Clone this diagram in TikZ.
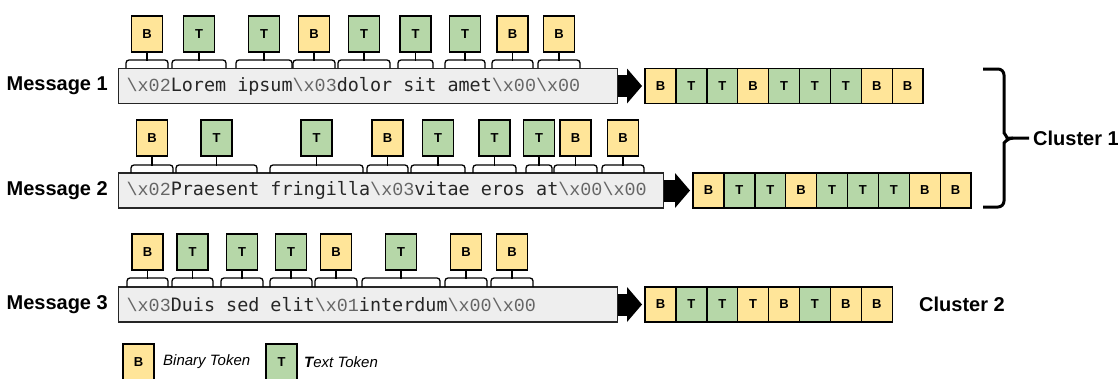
\documentclass[tikz,border=0pt]{standalone}
\usepackage{fontspec}
\setmainfont{Liberation Sans}
\newfontfamily\codefont{DejaVu Sans Mono}
\newfontfamily\escfont{Liberation Mono}
\usetikzlibrary{arrows.meta, positioning}

\definecolor{fillB}{HTML}{FFE599}
\definecolor{fillT}{HTML}{B6D7A8}
\definecolor{msggray}{HTML}{EEEEEE}
\newcommand{\esc}[1]{{\escfont\color{black!60}\textbackslash x#1}}
\newcommand{\spc}{\hspace*{11.07pt}}

\tikzset{
  tok/.style={draw=black, line width=1.4pt, fill=fill#1, minimum width=31pt, minimum height=36pt,
    inner sep=0pt, font=\fontsize{13}{15}\selectfont\bfseries},
  cell/.style={draw=black, line width=1.4pt, fill=fill#1, minimum width=30.9pt, minimum height=35pt,
    inner sep=0pt, outer sep=0pt, font=\fontsize{13}{15}\selectfont\bfseries},
  msgbox/.style={draw=black!85, fill=msggray, line width=1.3pt, anchor=west, inner xsep=8pt,
    inner ysep=0pt, minimum height=35pt, align=left, text=black!85, font=\fontsize{18.4}{20}\codefont},
  lbl/.style={inner sep=0pt, font=\fontsize{20}{24}\selectfont\bfseries},
  bracket/.style={line width=1.3pt, rounded corners=3pt},
  bigarrow/.style={line width=22pt, -{Triangle[length=15pt, width=35pt, line width=0pt]}, shorten >=3pt},
}

\begin{document}
\begin{tikzpicture}[x=1pt, y=-1pt]
    \useasboundingbox (0,0) rectangle (1118,378);
    % messages
    \node[lbl, anchor=east] (l1) at (108,86) {Message 1};
    \node[msgbox, text width=483pt] (m1) at (118,86) {\esc{02}Lorem\spc ipsum\esc{03}dolor\spc sit\spc amet\esc{00}\esc{00}};
    \node[lbl, anchor=east] (l2) at (108,190.5) {Message 2};
    \node[msgbox, text width=529pt] (m2) at (118,190.5) {\esc{02}Praesent\spc fringilla\esc{03}vitae\spc eros\spc at\esc{00}\esc{00}};
    \node[lbl, anchor=east] (l3) at (108,304.5) {Message 3};
    \node[msgbox, text width=483pt] (m3) at (118,304.5) {\esc{03}Duis\spc sed\spc elit\esc{01}interdum\esc{00}\esc{00}};

    % tokens above the messages
    \foreach \l/\r/\k [count=\i] in {126/168/B, 172/226/T, 236/292/T, 293/335/B, 338/390/T,
                                     398/433/T, 445/485/T, 492/533/B, 538/580/B}{
      \node[tok=\k] (a\i) at ({(\l+\r)/2},34) {\k};
      \draw[bracket] (\l,68) |- ({(\l+\r)/2},60) -| (\r,68);
      \draw[line width=1.3pt] (a\i.south) -- ++(0,8);
    }
    \foreach \l/\r/\k [count=\i] in {131/173/B, 176/257/T, 270/363/T, 367/408/B, 411/465/T,
                                     473/516/T, 526/552/T, 554/597/B, 602/644/B}{
      \node[tok=\k] (b\i) at ({(\l+\r)/2},138) {\k};
      \draw[bracket] (\l,173) |- ({(\l+\r)/2},165) -| (\r,173);
      \draw[line width=1.3pt] (b\i.south) -- ++(0,9);
    }
    \foreach \l/\r/\k [count=\i] in {127/168/B, 172/213/T, 221/263/T, 270/312/T, 315/357/B,
                                     362/440/T, 445/487/B, 491/533/B}{
      \node[tok=\k] (c\i) at ({(\l+\r)/2},252) {\k};
      \draw[bracket] (\l,287) |- ({(\l+\r)/2},278) -| (\r,287);
      \draw[line width=1.3pt] (c\i.south) -- ++(0,8);
    }

    % token strips
    \foreach \f/\k [count=\i] in {B/B, T/T, T/T, B/B, T/T, T/T, T/T, B/B, B/B}
      \node[cell=\f] (s1-\i) at ({645+30.9*(\i-0.5)},86) {\k};
    \foreach \f/\k [count=\i] in {B/B, T/T, T/T, B/B, T/T, T/T, T/T, B/B, B/B}
      \node[cell=\f] (s2-\i) at ({693+30.9*(\i-0.5)},190.5) {\k};
    \foreach \f/\k [count=\i] in {B/B, T/T, T/T, B/T, B/B, T/T, B/B, B/B}
      \node[cell=\f] (s3-\i) at ({645+30.9*(\i-0.5)},304.5) {\k};

    \draw[bigarrow] (m1.east) -- (s1-1.west);
    \draw[bigarrow] (m2.east) -- (s2-1.west);
    \draw[bigarrow] (m3.east) -- (s3-1.west);

    % clusters
    \draw[line width=3pt, rounded corners=6pt] (983,69) -| (1004,127) to[out=-90,in=180] (1013,138) -- (1029,138);
    \draw[line width=3pt, rounded corners=6pt] (983,207) -| (1004,149) to[out=90,in=180] (1013,138);
    \node[lbl, anchor=west] (k1) at (1033,138) {Cluster 1};
    \node[lbl, anchor=west] (k2) at (919,304) {Cluster 2};

    % legend
    \node[tok=B] (lb) at (138.5,362) {B};
    \node[anchor=west, inner sep=0pt, font=\fontsize{15}{18}\selectfont\itshape] (lbt) at (163,362) {Binary Token};
    \node[tok=T] (lt) at (281.5,362) {T};
    \node[anchor=west, inner sep=0pt, font=\fontsize{15}{18}\selectfont\itshape] (ltt) at (304,362) {\textbf{T}ext Token};
\end{tikzpicture}
\end{document}
